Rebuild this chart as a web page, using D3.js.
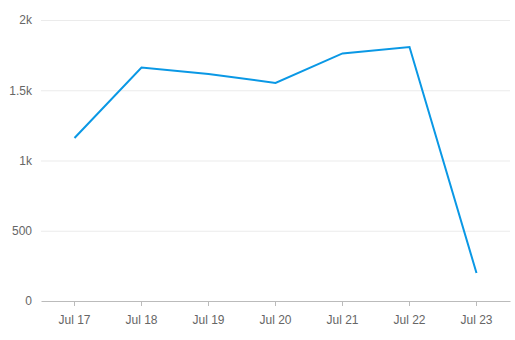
<!DOCTYPE html>
<html>
<head>
<meta charset="utf-8">
<script src="https://cdn.jsdelivr.net/npm/d3@7"></script>
<style>
  body { margin: 0; background: #fff; }
  text { font-family: "Liberation Sans", Arial, sans-serif; }
</style>
</head>
<body>
<div id="chart"></div>
<script>
const categories = ['Jul 17', 'Jul 18', 'Jul 19', 'Jul 20', 'Jul 21', 'Jul 22', 'Jul 23'];
const values = [1160, 1662, 1616, 1552, 1762, 1808, 199];
const yTicks = [0, 500, 1000, 1500, 2000];

const WIDTH = 515;
const HEIGHT = 340;
const MARGIN = { top: 20, right: 5, bottom: 39, left: 41 };
const LINE_COLOR = '#0a98e5';

const svg = d3.select('#chart')
  .append('svg')
    .attr('width', WIDTH)
    .attr('height', HEIGHT);

const x = d3.scaleBand()
  .domain(categories)
  .range([MARGIN.left, WIDTH - MARGIN.right]);

const y = d3.scaleLinear()
  .domain([0, 2000])
  .range([HEIGHT - MARGIN.bottom, MARGIN.top]);

// gridlines + y labels
const yAxis = svg.append('g')
  .attr('transform', `translate(${MARGIN.left}, 0)`)
  .call(d3.axisLeft(y)
    .tickValues(yTicks)
    .tickSize(0)
    .tickPadding(9)
    .tickFormat(d => d === 0 ? '0' : d < 1000 ? String(d) : (d / 1000) + 'k'));
yAxis.select('.domain').remove();
yAxis.selectAll('text')
  .attr('fill', '#666')
  .style('font-size', '12px');
yAxis.selectAll('.tick')
  .filter(d => d !== 0)
  .append('line')
    .attr('x1', 0)
    .attr('x2', WIDTH - MARGIN.right - MARGIN.left)
    .attr('stroke', '#ebebeb');

// x axis
const xAxis = svg.append('g')
  .attr('transform', `translate(0, ${HEIGHT - MARGIN.bottom})`)
  .call(d3.axisBottom(x).tickSize(5).tickSizeOuter(0).tickPadding(9));
xAxis.select('.domain').attr('stroke', '#bbb');
xAxis.selectAll('.tick line').attr('stroke', '#bbb');
xAxis.selectAll('text')
  .attr('fill', '#666')
  .style('font-size', '12px');

// line
const line = d3.line()
  .x((d, i) => x(categories[i]) + x.bandwidth() / 2)
  .y(d => y(d));

svg.append('path')
  .datum(values)
  .attr('fill', 'none')
  .attr('stroke', LINE_COLOR)
  .attr('stroke-width', 2)
  .attr('d', line);
</script>
</body>
</html>
